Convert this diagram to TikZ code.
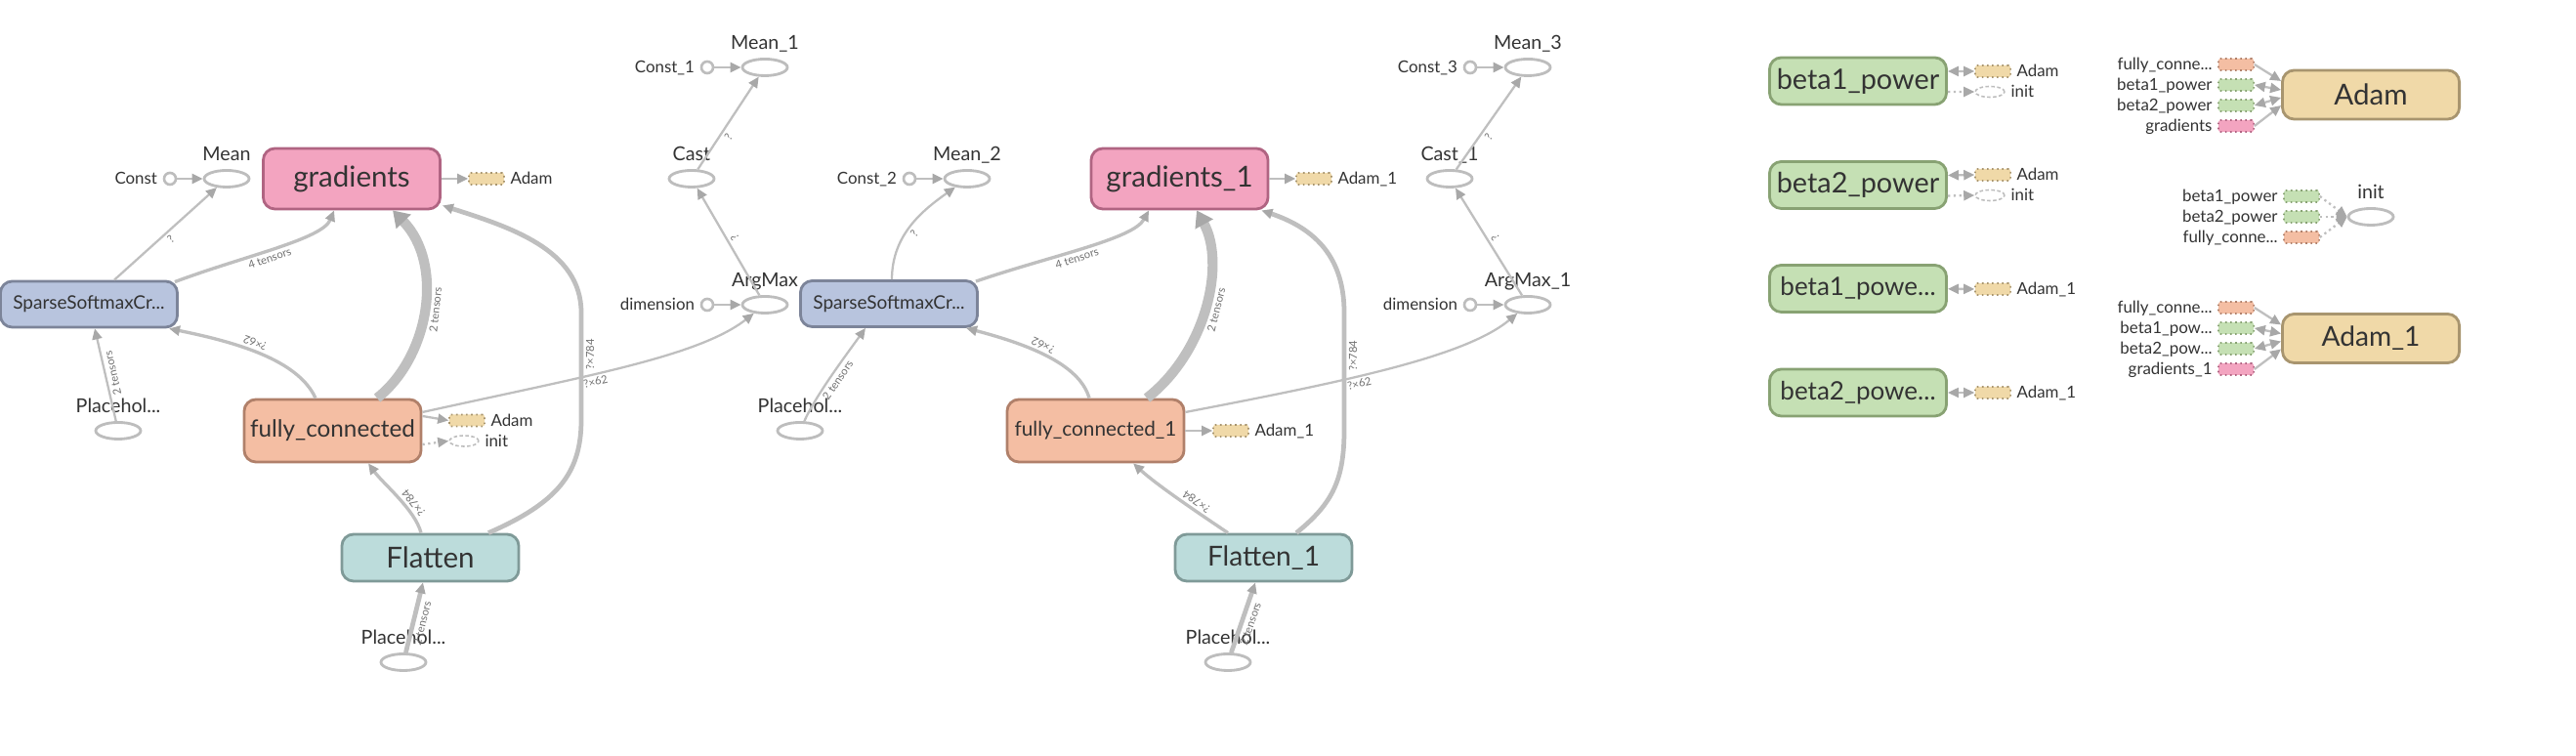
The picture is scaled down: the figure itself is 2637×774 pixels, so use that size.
\documentclass[tikz,border=0pt]{standalone}
\usepackage{fontspec}
\setmainfont{Lato}
\usetikzlibrary{shapes.geometric,arrows.meta}

\definecolor{txt}{HTML}{333333}
\definecolor{labc}{HTML}{707070}
\definecolor{edgec}{HTML}{BFBFBF}
\definecolor{arrowc}{HTML}{A8A8A8}
\definecolor{opline}{HTML}{BDBDBD}
\definecolor{gradfill}{HTML}{F3A4C0}
\definecolor{gradline}{HTML}{B06482}
\definecolor{lossfill}{HTML}{B8C4DE}
\definecolor{lossline}{HTML}{7C8499}
\definecolor{fcfill}{HTML}{F4BEA3}
\definecolor{fcline}{HTML}{B0806A}
\definecolor{flatfill}{HTML}{BCDCDB}
\definecolor{flatline}{HTML}{7F9A98}
\definecolor{betafill}{HTML}{C5E0B4}
\definecolor{betaline}{HTML}{88A273}
\definecolor{adamfill}{HTML}{F0D9A8}
\definecolor{adamline}{HTML}{A8956F}

\newcommand{\tbsize}[1]{\fontsize{#1}{#1}\selectfont}

\begin{document}
\begin{tikzpicture}[x=0.01cm,y=-0.01cm]
	% Styles
	\tikzset{
		box/.style={rectangle, rounded corners=0.12cm, line width=0.8pt, minimum width=1.81cm, inner sep=0, text=txt, font=\tbsize{8.4}},
		gradbox/.style={box, fill=gradfill, draw=gradline, minimum height=0.62cm},
		lossbox/.style={box, fill=lossfill, draw=lossline, minimum height=0.47cm, font=\tbsize{5.4}},
		fcbox/.style={box, fill=fcfill, draw=fcline, minimum height=0.64cm, font=\tbsize{6.9}},
		flatbox/.style={box, fill=flatfill, draw=flatline, minimum height=0.48cm},
		betabox/.style={box, fill=betafill, draw=betaline, minimum height=0.48cm, font=\tbsize{8.2}},
		adambox/.style={box, fill=adamfill, draw=adamline, minimum height=0.5cm},
		op/.style={ellipse, draw=opline, line width=0.8pt, fill=white, minimum width=0.46cm, minimum height=0.17cm, inner sep=0},
		cst/.style={circle, draw=opline, line width=0.75pt, fill=white, minimum size=0.12cm, inner sep=0},
		stub/.style={rectangle, rounded corners=0.02cm, densely dotted, line width=0.45pt, minimum width=0.36cm, minimum height=0.12cm, inner sep=0},
		adamstub/.style={stub, fill=adamfill, draw=adamline},
		betastub/.style={stub, fill=betafill, draw=betaline},
		fcstub/.style={stub, fill=fcfill, draw=fcline},
		gradstub/.style={stub, fill=gradfill, draw=gradline},
		ctlstub/.style={ellipse, dash pattern=on 1pt off 0.7pt, draw=opline, line width=0.45pt, minimum width=0.3cm, minimum height=0.11cm, inner sep=0},
		oplab/.style={font=\tbsize{5.6}, text=txt, inner sep=0, text depth=0pt, yshift=0.075cm},
		sidelab/.style={font=\tbsize{4.8}, text=txt, inner sep=0, text height=3.4pt, text depth=0pt},
		leftlab/.style={sidelab, xshift=-0.05cm},
		rightlab/.style={sidelab, xshift=0.05cm},
		edge/.style={draw=edgec, line width=0.65pt, -{Triangle[length=0.11cm,width=0.1cm,color=arrowc]}},
		biedge/.style={draw=edgec, line width=0.65pt, {Triangle[length=0.11cm,width=0.1cm,color=arrowc]}-{Triangle[length=0.11cm,width=0.1cm,color=arrowc]}},
		ctledge/.style={edge, densely dotted},
		medium/.style={line width=0.95pt},
		heavy/.style={line width=1.35pt},
		huge/.style={line width=2.9pt, -{Triangle[length=0.16cm,width=0.2cm,color=arrowc]}},
		elab/.style={font=\tbsize{3.2}, text=labc, inner sep=0.025cm, sloped, allow upside down},
	}
	\useasboundingbox (0,0) rectangle (2637,774);

	% first model
	\node[op, label={[oplab]above:Mean}] (mean) at (232,183) {};
	\node[cst, label={[leftlab]left:Const}] (const) at (174,183) {};
	\node[gradbox] (grad) at (360,183) {gradients};
	\node[adamstub, label={[rightlab]right:Adam}] (gradadam) at (498,183) {};
	\node[lossbox] (sparse) at (91,311.5) {SparseSoftmaxCr...};
	\node[fcbox] (fc) at (340.5,441) {fully\_connected};
	\node[adamstub, label={[rightlab]right:Adam}] (fcadam) at (478,430.5) {};
	\node[ctlstub, label={[rightlab]right:init}] (fcinit) at (475,451.5) {};
	\node[op, label={[oplab]above:Placehol...}] (ph) at (121,441) {};
	\node[flatbox] (flat) at (440.5,571) {Flatten};
	\node[op, label={[oplab]above:Placehol...}] (phflat) at (413,678) {};
	\node[op, label={[oplab]above:Mean\_1}] (mean1) at (783,69) {};
	\node[cst, label={[leftlab]left:Const\_1}] (const1) at (724,69) {};
	\node[op, label={[oplab]above:Cast}] (cast) at (708,183) {};
	\node[op, label={[oplab]above:ArgMax}] (argmax) at (783,312) {};
	\node[cst, label={[leftlab]left:dimension}] (dim) at (724,312) {};

	\draw[edge] (const) -- (mean);
	\draw[edge] ([xshift=0.26cm]sparse.north) -- node[elab,below] {?} (mean);
	\draw[edge, medium] ([xshift=-0.04cm,yshift=-0.02cm]sparse.north east) .. controls (250,262) and (330,245) .. node[elab,below,pos=0.45] {4 tensors} ([xshift=-0.18cm]grad.south);
	\draw[edge, medium] ([xshift=-0.175cm]fc.north) .. controls (305,368) and (240,350) .. node[elab,below,pos=0.55] {?×62} ([xshift=0.82cm]sparse.south);
	\draw[edge, huge] ([xshift=0.455cm]fc.north) .. controls (440,365) and (455,270) .. node[elab,below] {2 tensors} ([xshift=0.42cm]grad.south);
	\draw[edge, heavy] ([xshift=0.595cm]flat.north) .. controls (570,515) and (595,485) .. (595,430) -- node[elab,below,pos=0.61] {?×784} (595,320) .. controls (595,255) and (520,232) .. ([xshift=0.01cm,yshift=0.05cm]grad.south east);
	\draw[edge] ([yshift=0.19cm]fc.east) .. controls (600,385) and (715,365) .. node[elab,below,pos=0.4] {?×62} (argmax);
	\draw[edge] (ph) -- node[elab,below] {2 tensors} ([xshift=0.06cm]sparse.south);
	\draw[edge, medium] ([xshift=-0.095cm]flat.north) .. controls (425,522) and (392,495) .. node[elab,below,pos=0.35] {?×784} ([xshift=0.365cm]fc.south);
	\draw[edge, heavy] (phflat) -- node[elab,below,pos=0.45] {2 tensors} ([xshift=-0.075cm]flat.south);
	\draw[edge] (grad) -- (gradadam);
	\draw[edge] ([yshift=0.15cm]fc.east) -- (fcadam.west);
	\draw[ctledge] ([yshift=-0.14cm]fc.east) -- (fcinit.west);
	\draw[edge] (const1) -- (mean1);
	\draw[edge] (cast) -- node[elab,below,pos=0.4] {?} (mean1);
	\draw[edge] (argmax) -- node[elab,below] {?} (cast);
	\draw[edge] (dim) -- (argmax);

	% second model
	\node[op, label={[oplab]above:Mean\_2}] (mean2) at (990,183) {};
	\node[cst, label={[leftlab]left:Const\_2}] (const2) at (931,183) {};
	\node[lossbox] (sparse2) at (910,311) {SparseSoftmaxCr...};
	\node[gradbox] (grad1) at (1207.5,183) {gradients\_1};
	\node[adamstub, label={[rightlab]right:Adam\_1}] (grad1adam) at (1345,183) {};
	\node[fcbox, font=\tbsize{5.9}] (fc1) at (1121.5,441) {fully\_connected\_1};
	\node[adamstub, label={[rightlab]right:Adam\_1}] (fc1adam) at (1260,441) {};
	\node[op, label={[oplab]above:Placehol...}] (ph2) at (819,441) {};
	\node[flatbox, font=\tbsize{8.0}] (flat1) at (1293.5,571) {Flatten\_1};
	\node[op, label={[oplab]above:Placehol...}] (phflat1) at (1257,678) {};
	\node[op, label={[oplab]above:Mean\_3}] (mean3) at (1564,69) {};
	\node[cst, label={[leftlab]left:Const\_3}] (const3) at (1505,69) {};
	\node[op, label={[oplab]above:Cast\_1}] (cast1) at (1484,183) {};
	\node[op, label={[oplab]above:ArgMax\_1}] (argmax1) at (1564,312) {};
	\node[cst, label={[leftlab]left:dimension}] (dim1) at (1505,312) {};

	\draw[edge] (const2) -- (mean2);
	\draw[edge] ([xshift=0.03cm]sparse2.north) .. controls (913,240) and (945,215) .. node[elab,below,pos=0.45] {?} (mean2);
	\draw[edge, medium] ([xshift=-0.03cm,yshift=-0.02cm]sparse2.north east) .. controls (1075,262) and (1160,245) .. node[elab,below,pos=0.45] {4 tensors} ([xshift=-0.315cm]grad1.south);
	\draw[edge, medium] ([xshift=-0.065cm]fc1.north) .. controls (1105,372) and (1050,352) .. node[elab,below,pos=0.55] {?×62} ([xshift=0.79cm]sparse2.south);
	\draw[edge, huge] ([xshift=0.525cm]fc1.north) .. controls (1235,360) and (1255,270) .. node[elab,below] {2 tensors} ([xshift=0.175cm]grad1.south);
	\draw[edge, heavy] ([xshift=0.335cm]flat1.north) .. controls (1365,515) and (1376,490) .. (1376,440) -- node[elab,below,pos=0.63] {?×784} (1376,320) .. controls (1376,258) and (1340,232) .. ([xshift=-0.08cm]grad1.south east);
	\draw[edge] ([yshift=0.19cm]fc1.east) .. controls (1380,390) and (1500,365) .. node[elab,below,pos=0.4] {?×62} (argmax1);
	\draw[edge] (ph2) .. controls (835,405) and (865,365) .. node[elab,below] {2 tensors} ([xshift=-0.24cm]sparse2.south);
	\draw[edge, medium] ([xshift=-0.365cm]flat1.north) .. controls (1222,522) and (1185,497) .. node[elab,below,pos=0.35] {?×784} ([xshift=0.385cm]fc1.south);
	\draw[edge, heavy] (phflat1) -- node[elab,below,pos=0.45] {2 tensors} ([xshift=-0.085cm]flat1.south);
	\draw[edge] (grad1) -- (grad1adam);
	\draw[edge] (fc1) -- (fc1adam);
	\draw[edge] (const3) -- (mean3);
	\draw[edge] (cast1) -- node[elab,below,pos=0.4] {?} (mean3);
	\draw[edge] (argmax1) -- node[elab,below] {?} (cast1);
	\draw[edge] (dim1) -- (argmax1);

	% variables
	\node[betabox] (beta1) at (1902,83) {beta1\_power};
	\node[adamstub, label={[rightlab]right:Adam}] (b1adam) at (2040,73) {};
	\node[ctlstub, label={[rightlab]right:init}] (b1init) at (2037,94) {};
	\node[betabox] (beta2) at (1902,189.5) {beta2\_power};
	\node[adamstub, label={[rightlab]right:Adam}] (b2adam) at (2040,179) {};
	\node[ctlstub, label={[rightlab]right:init}] (b2init) at (2037,200) {};
	\node[betabox, font=\tbsize{7.4}] (beta3) at (1902,295.5) {beta1\_powe...};
	\node[adamstub, label={[rightlab]right:Adam\_1}] (b3adam) at (2040,296) {};
	\node[betabox, font=\tbsize{7.4}] (beta4) at (1902,402) {beta2\_powe...};
	\node[adamstub, label={[rightlab]right:Adam\_1}] (b4adam) at (2040,402) {};

	\draw[biedge] ([yshift=0.1cm]beta1.east) -- (b1adam.west);
	\draw[ctledge] ([yshift=-0.11cm]beta1.east) -- (b1init.west);
	\draw[biedge] ([yshift=0.1cm]beta2.east) -- (b2adam.west);
	\draw[ctledge] ([yshift=-0.11cm]beta2.east) -- (b2init.west);
	\draw[biedge] (beta3) -- (b3adam);
	\draw[biedge] (beta4) -- (b4adam);

	% optimizers
	\node[adambox] (adam) at (2427,97) {Adam};
	\node[fcstub, label={[leftlab]left:fully\_conne...}] (afc) at (2289,66) {};
	\node[betastub, label={[leftlab]left:beta1\_power}] (ab1) at (2289,87) {};
	\node[betastub, label={[leftlab]left:beta2\_power}] (ab2) at (2289,108) {};
	\node[gradstub, label={[leftlab]left:gradients}] (agrad) at (2289,129) {};
	\draw[edge] (afc.east) -- ([yshift=0.14cm]adam.west);
	\draw[biedge] (ab1.east) -- ([yshift=0.05cm]adam.west);
	\draw[biedge] (ab2.east) -- ([yshift=-0.03cm]adam.west);
	\draw[edge] (agrad.east) -- ([yshift=-0.11cm]adam.west);

	\node[op, label={[oplab]above:init}] (initop) at (2427,222) {};
	\node[betastub, label={[leftlab]left:beta1\_power}] (ib1) at (2356,201) {};
	\node[betastub, label={[leftlab]left:beta2\_power}] (ib2) at (2356,222) {};
	\node[fcstub, label={[leftlab]left:fully\_conne...}] (ifc) at (2356,243) {};
	\draw[ctledge] (ib1.east) -- (initop.west);
	\draw[ctledge] (ib2.east) -- (initop.west);
	\draw[ctledge] (ifc.east) -- (initop.west);

	\node[adambox, font=\tbsize{8.0}] (adam1) at (2427,346.5) {Adam\_1};
	\node[fcstub, label={[leftlab]left:fully\_conne...}] (a1fc) at (2289,315) {};
	\node[betastub, label={[leftlab]left:beta1\_pow...}] (a1b1) at (2289,336) {};
	\node[betastub, label={[leftlab]left:beta2\_pow...}] (a1b2) at (2289,357) {};
	\node[gradstub, label={[leftlab]left:gradients\_1}] (a1grad) at (2289,378) {};
	\draw[edge] (a1fc.east) -- ([yshift=0.14cm]adam1.west);
	\draw[biedge] (a1b1.east) -- ([yshift=0.05cm]adam1.west);
	\draw[biedge] (a1b2.east) -- ([yshift=-0.03cm]adam1.west);
	\draw[edge] (a1grad.east) -- ([yshift=-0.11cm]adam1.west);
\end{tikzpicture}
\end{document}
